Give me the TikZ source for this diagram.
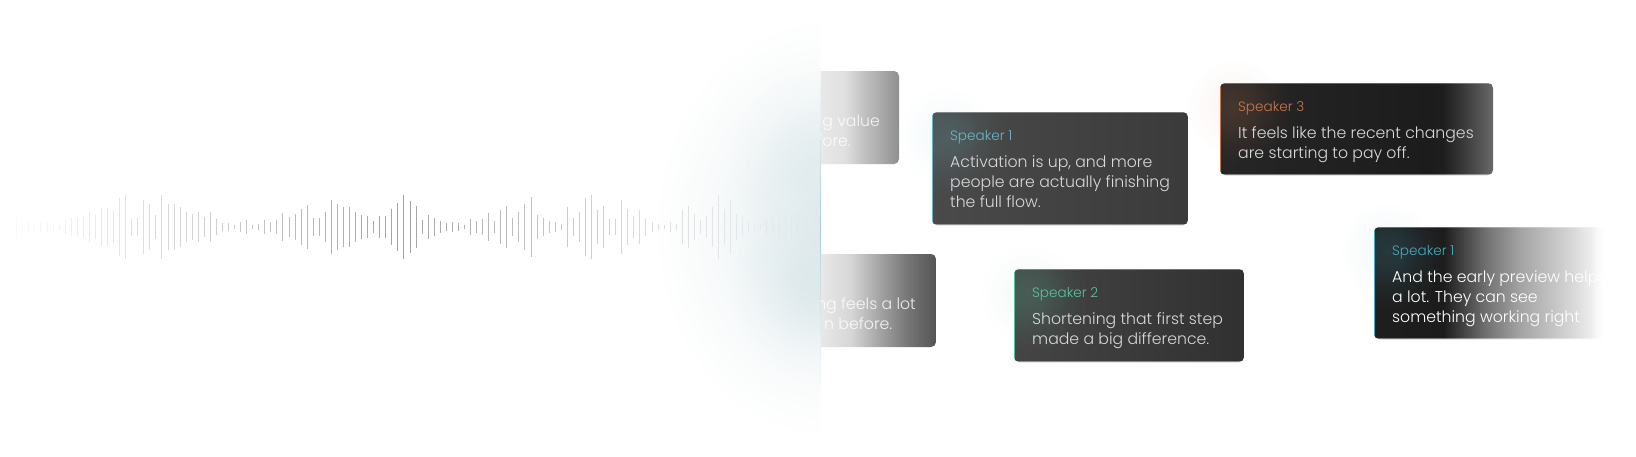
\documentclass[tikz,border=0pt]{standalone}
\usepackage{fontspec}
\setmainfont{Poppins}[UprightFont=* Light]
\usetikzlibrary{fadings}
\definecolor{glowteal}{HTML}{BFD5DB}
\definecolor{edgeteal}{HTML}{AFCDD5}
\definecolor{bodytext}{HTML}{D8D8D8}
\definecolor{tealA}{HTML}{6CB6C4}
\definecolor{tealB}{HTML}{4AA8BC}
\definecolor{greenA}{HTML}{57C49F}
\definecolor{orangeA}{HTML}{C9774F}
\pgfdeclareradialshading{softshade}{\pgfpointorigin}{color(0bp)=(pgftransparent!0); color(8bp)=(pgftransparent!25); color(16bp)=(pgftransparent!70); color(25bp)=(pgftransparent!100); color(50bp)=(pgftransparent!100)}
\pgfdeclarefading{softglow}{\pgfuseshading{softshade}}
\pgfdeclarehorizontalshading{cardA}{100bp}{color(0bp)=(white!91!black); color(25bp)=(white!91!black); color(40bp)=(white!88!black); color(52bp)=(white!76!black); color(62bp)=(white!68!black); color(75bp)=(white!56!black); color(100bp)=(white!56!black)}
\pgfdeclarehorizontalshading{cardB}{100bp}{color(0bp)=(white!91!black); color(25bp)=(white!91!black); color(38bp)=(white!84!black); color(50bp)=(white!65!black); color(62bp)=(white!47!black); color(75bp)=(white!33!black); color(100bp)=(white!33!black)}
\pgfdeclarehorizontalshading{cardC}{100bp}{color(0bp)=(white!29!black); color(25bp)=(white!29!black); color(75bp)=(white!23!black); color(100bp)=(white!23!black)}
\pgfdeclarehorizontalshading{cardD}{100bp}{color(0bp)=(white!27!black); color(25bp)=(white!27!black); color(75bp)=(white!19!black); color(100bp)=(white!19!black)}
\pgfdeclarehorizontalshading{cardE}{100bp}{color(0bp)=(white!15!black); color(25bp)=(white!15!black); color(63bp)=(white!11!black); color(66bp)=(white!12!black); color(70bp)=(white!24!black); color(75bp)=(white!41!black); color(100bp)=(white!41!black)}
\pgfdeclarehorizontalshading{cardF}{100bp}{color(0bp)=(white!12!black); color(25bp)=(white!12!black); color(40bp)=(white!11!black); color(49bp)=(white!44!black); color(56bp)=(white!63!black); color(67bp)=(white!83!black); color(75bp)=(white); color(100bp)=(white)}
\tikzset{
  x=1pt,y=-1pt,
  cardtext/.style={anchor=base west,inner sep=0pt,text=bodytext,font=\fontsize{15.7}{20}\selectfont,align=left},
  fadetext/.style={anchor=base east,inner sep=0pt,text=white,opacity=.85,font=\fontsize{15.7}{20}\selectfont},
  speaker/.style={anchor=base west,inner sep=0pt,font=\fontsize{13.6}{15}\selectfont},
  bar/.style={line width=1pt},
}
\newcommand{\speakercard}[8]{% name,left,top,right,bottom,shading,accent,label
  \fill[#7,opacity=.09,path fading=softglow] (#2+14,#3+24) circle[radius=48];
  \begin{scope}
    \clip[rounded corners=5pt] (#2,#3) rectangle (#4,#5);
    \shade[shading=#6] (#2,#3) rectangle (#4,#5);
    \fill[#7,opacity=.2,path fading=softglow] (#2+14,#3+24) circle[radius=60];
    \draw[white,opacity=.3,line width=1.4pt] (#2,#3) -- (#4,#3);
    \draw[white,opacity=.4,line width=1.4pt] (#2,#5) -- (#4,#5);
    \draw[#7,line width=2pt] (#2,#3) -- (#2,#5);
  \end{scope}
  \coordinate (#1) at (#2,#3);
  \node[speaker,text=#7] (#1label) at (#2+18,#3+28) {#8};
}
\begin{document}
\begin{tikzpicture}
\useasboundingbox (0,0) rectangle (1636,456);
\fill[white] (0,0) rectangle (1636,456);

% glow behind the wave, cut at the divider
\begin{scope}
  \clip (0,0) rectangle (820.5,456);
  \fill[glowteal,opacity=.42,path fading=softglow] (825,228) ellipse[x radius=168,y radius=205];
  \fill[glowteal,opacity=.2,path fading=softglow] (820,158) ellipse[x radius=90,y radius=90];
  \fill[glowteal,opacity=.3,path fading=softglow] (820,288) ellipse[x radius=90,y radius=90];
\end{scope}
\shade[top color=white,bottom color=edgeteal] (820,60) rectangle (821,228);
\shade[top color=edgeteal,bottom color=white] (820,228) rectangle (821,400);

% waveform
\foreach \h [count=\i from 0] in {10,12,7,6,5,5,4,4,2,7,9,9,11,15,12,19,19,16,29,32,9,9,27,23,12,32,23,23,20,15,13,15,10,15,8,4,4,2,5,7,2,3,7,5,7,14,10,13,18,22,9,9,15,27,23,20,20,15,12,11,6,11,11,18,24,32,26,21,7,12,9,6,4,5,4,2,8,6,8,14,6,17,21,9,15,23,30,12,9,6,5,3,20,9,15,29,32,17,21,8,8,27,18,11,17,9,5,3,2,5,3,17,21,13,7,11,20,32,18,27,13,10,5,2,2,7,6,13,17,13,7}{
  \pgfmathsetmacro{\xx}{10.7+6.05*\i}
  \pgfmathsetmacro{\op}{\xx<400 ? 0.36*\xx/400 : max(0.36*(800-\xx)/400,0.01)}
  \draw[bar,black,opacity=\op] (\xx,227.3-\h) -- (\xx,227.3+\h);
}

% half hidden cards, cut at the divider
\begin{scope}
  \clip (820.8,0) rectangle (1636,456);
  \begin{scope}
    \clip[rounded corners=5pt] (780,71) rectangle (899,164);
    \shade[shading=cardA] (820.8,71) rectangle (899,164);
  \end{scope}
  \node[fadetext] (hiddenAone) at (880,126.5) {g value};
  \node[fadetext] (hiddenAtwo) at (851,146.5) {fore.};
  \begin{scope}
    \clip[rounded corners=5pt] (780,254) rectangle (936,347);
    \shade[shading=cardB] (820.8,254) rectangle (936,347);
  \end{scope}
  \node[fadetext] (hiddenBone) at (916,309) {ng feels a lot};
  \node[fadetext] (hiddenBtwo) at (892.5,329) {n before.};
\end{scope}

% speaker cards
\speakercard{cardone}{932}{112}{1188}{225}{cardC}{tealA}{Speaker 1}
\node[cardtext] (textone) at (950,207) {Activation is up, and more\\people are actually finishing\\the full flow.};

\speakercard{cardtwo}{1014}{269}{1244}{362}{cardD}{greenA}{Speaker 2}
\node[cardtext] (texttwo) at (1032,344) {Shortening that first step\\made a big difference.};

\speakercard{cardthree}{1220}{83}{1493}{175}{cardE}{orangeA}{Speaker 3}
\node[cardtext] (textthree) at (1238,158) {It feels like the recent changes\\are starting to pay off.};

\speakercard{cardfour}{1374}{227}{1606}{339}{cardF}{tealB}{Speaker 1}
\node[cardtext,text=white] (textfour) at (1392,322) {And the early preview helps\\a lot. They can see\\something working right};
\fill[white,path fading=west] (1592,220) rectangle (1604,345);
\fill[white] (1603.5,215) rectangle (1636,350);
\end{tikzpicture}
\end{document}
